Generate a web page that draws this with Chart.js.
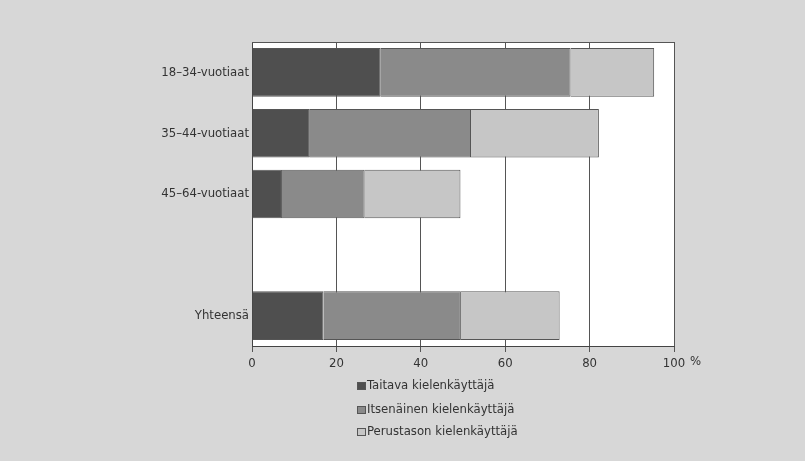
<!DOCTYPE html>
<html>
<head>
<meta charset="utf-8">
<script src="https://cdn.jsdelivr.net/npm/chart.js@4"></script>
<style>
  html, body { margin: 0; padding: 0; background: #d7d7d7; }
  #wrap { width: 805px; height: 461px; }
</style>
</head>
<body>
<div id="wrap"><canvas id="kieliChart" width="805" height="461"></canvas></div>
<script>
// ===== DATA =====
const ageGroups = ["18–34-vuotiaat", "35–44-vuotiaat", "45–64-vuotiaat", "", "Yhteensä"];
const taitava = [30.5, 13.7, 7.1, null, 16.9];
const itsenainen = [45.0, 38.2, 19.6, null, 32.6];
const perustaso = [19.8, 30.3, 22.7, null, 23.4];
const seriesNames = ["Taitava kielenkäyttäjä", "Itsenäinen kielenkäyttäjä", "Perustason kielenkäyttäjä"];
const xTicks = [0, 20, 40, 60, 80, 100];

const FONT = "'DejaVu Sans Condensed', 'Liberation Sans Narrow', sans-serif";
const colors = ["#4f4f4f", "#8a8a8a", "#c6c6c6"];

// ===== BACKGROUND + EXTRAS =====
const paperPlugin = {
  id: "paper",
  beforeDraw(chart) {
    const { ctx, chartArea: a } = chart;
    ctx.save();
    ctx.fillStyle = "#d7d7d7";
    ctx.fillRect(0, 0, chart.width, chart.height);
    ctx.fillStyle = "#ffffff";
    ctx.fillRect(a.left, a.top, a.right - a.left, a.bottom - a.top);
    ctx.restore();
  },
  afterDraw(chart) {
    const { ctx, chartArea: a } = chart;
    ctx.save();
    // top border line
    ctx.strokeStyle = "#555";
    ctx.lineWidth = 1;
    ctx.beginPath();
    ctx.moveTo(a.left, a.top + 0.5);
    ctx.lineTo(a.right, a.top + 0.5);
    ctx.stroke();

    // percent sign after 100
    ctx.fillStyle = "#333";
    ctx.font = "13px " + FONT;
    ctx.textBaseline = "middle";
    ctx.fillText("%", a.right + 16, 362);

    // vertical legend
    const lx = 357, rows = [386, 410, 432];
    chart.data.datasets.forEach((ds, i) => {
      ctx.fillStyle = ds.backgroundColor;
      ctx.strokeStyle = "#555";
      ctx.fillRect(lx, rows[i] - 4, 9, 8);
      ctx.strokeRect(lx + 0.5, rows[i] - 3.5, 8, 7);
      ctx.fillStyle = "#333";
      ctx.fillText(ds.label, lx + 10, rows[i]);
    });
    ctx.restore();
  }
};

// ===== CHART =====
const ctx = document.getElementById("kieliChart").getContext("2d");
new Chart(ctx, {
  type: "bar",
  data: {
    labels: ageGroups,
    datasets: [
      { label: seriesNames[0], data: taitava, backgroundColor: colors[0] },
      { label: seriesNames[1], data: itsenainen, backgroundColor: colors[1] },
      { label: seriesNames[2], data: perustaso, backgroundColor: colors[2] },
    ].map(d => ({ ...d, borderColor: "#555", borderWidth: 1, categoryPercentage: 0.8, barPercentage: 1.0 })),
  },
  options: {
    indexAxis: "y",
    responsive: false,
    animation: false,
    layout: { padding: { left: 0, right: 131, top: 42, bottom: 0 } },
    scales: {
      x: {
        stacked: true,
        min: 0,
        max: 100,
        afterBuildTicks: s => { s.ticks = xTicks.map(v => ({ value: v })); },
        afterFit: s => { s.height = 115; },
        ticks: { color: "#333", font: { family: FONT, size: 13 }, padding: 4 },
        grid: { color: "#555", lineWidth: 1, tickLength: 6 },
        border: { display: true, color: "#444" },
      },
      y: {
        stacked: true,
        afterFit: s => { s.width = 252; },
        ticks: { color: "#333", font: { family: FONT, size: 13 }, padding: 3 },
        grid: { display: false, drawTicks: false },
        border: { display: true, color: "#444" },
      },
    },
    plugins: {
      legend: { display: false },
      tooltip: { enabled: false },
    },
  },
  plugins: [paperPlugin],
});
</script>
</body>
</html>
